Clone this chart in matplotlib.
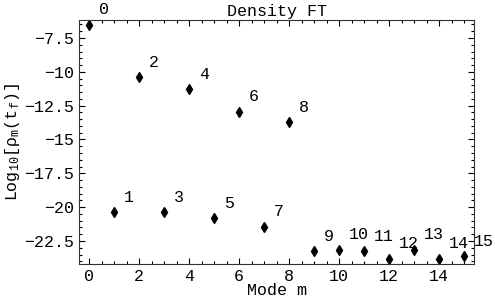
import numpy as np
import matplotlib.pyplot as plt
from matplotlib.ticker import MultipleLocator, FuncFormatter

# mode number and log10 of density Fourier coefficient
modes = [0, 1, 2, 3, 4, 5, 6, 7, 8, 9, 10, 11, 12, 13, 14, 15]
logrho = [-6.54, -20.37, -10.41, -20.39, -11.28, -20.81, -12.96, -21.45,
          -13.72, -23.26, -23.16, -23.26, -23.80, -23.16, -23.80, -23.63]
point_labels = [str(m) for m in modes]

plt.rcParams['font.family'] = ['Liberation Mono', 'DejaVu Sans Mono']
plt.rcParams['font.size'] = 12
plt.rcParams['mathtext.fontset'] = 'custom'
plt.rcParams['mathtext.rm'] = 'Liberation Mono'
plt.rcParams['mathtext.it'] = 'Liberation Mono'

fig = plt.figure(figsize=(4.95, 2.98), dpi=100)
ax = fig.add_axes([0.160, 0.114, 0.798, 0.819])

ax.plot(modes, logrho, 'kd', markersize=5.5)
for m, v, s in zip(modes, logrho, point_labels):
    ax.annotate(s, (m, v), textcoords='offset pixels', xytext=(10, 15),
                ha='left', va='center', fontsize=12)

ax.set_xlim(-0.4, 15.4)
ax.set_ylim(-24.2, -6.17)
ax.xaxis.set_major_locator(MultipleLocator(2))
ax.xaxis.set_minor_locator(MultipleLocator(0.5))
ax.yaxis.set_major_locator(MultipleLocator(2.5))
ax.yaxis.set_minor_locator(MultipleLocator(0.5))
ax.yaxis.set_major_formatter(FuncFormatter(lambda v, p: ('%g' % v).replace('-', '\u2212')))
ax.tick_params(which='both', direction='in', top=True, right=True, width=0.8)
ax.tick_params(which='major', length=4.5, labelsize=12)
ax.tick_params(which='minor', length=2.5)
for sp in ax.spines.values():
    sp.set_color('#333333')

ax.set_title('Density FT', fontsize=12, pad=3)
ax.set_xlabel('Mode m', fontsize=12, labelpad=-1)
ax.set_ylabel(r'Log$_{10}$[$\rho_{\rm m}$(t$_{\rm f}$)]', fontsize=12, labelpad=2)

fig.savefig('out.png', dpi=100)
